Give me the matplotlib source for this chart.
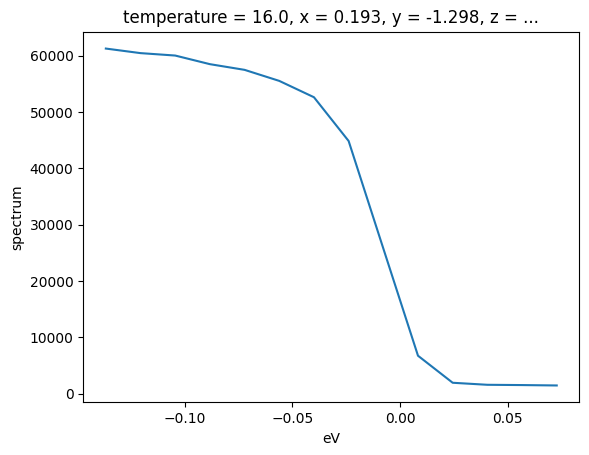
import matplotlib
matplotlib.use("Agg")
import matplotlib.pyplot as plt

# energy axis (eV) and spectrum intensity
eV = [-0.1366, -0.1205, -0.1044, -0.0883, -0.0722, -0.0561, -0.0400,
      -0.0239, -0.0078, 0.0083, 0.0244, 0.0405, 0.0566, 0.0727]
spectrum = [61290, 60480, 60050, 58520, 57510, 55550, 52650,
            44880, 25800, 6760, 1960, 1600, 1550, 1480]

title = "temperature = 16.0, x = 0.193, y = -1.298, z = ..."

fig = plt.figure(figsize=(5.89, 4.55), dpi=100)
ax = fig.add_axes([0.1414, 0.1158, 0.8421, 0.8145])
ax.plot(eV, spectrum)
ax.set_xlabel("eV")
ax.set_ylabel("spectrum")
ax.set_title(title)
fig.savefig("out.png", dpi=100)
